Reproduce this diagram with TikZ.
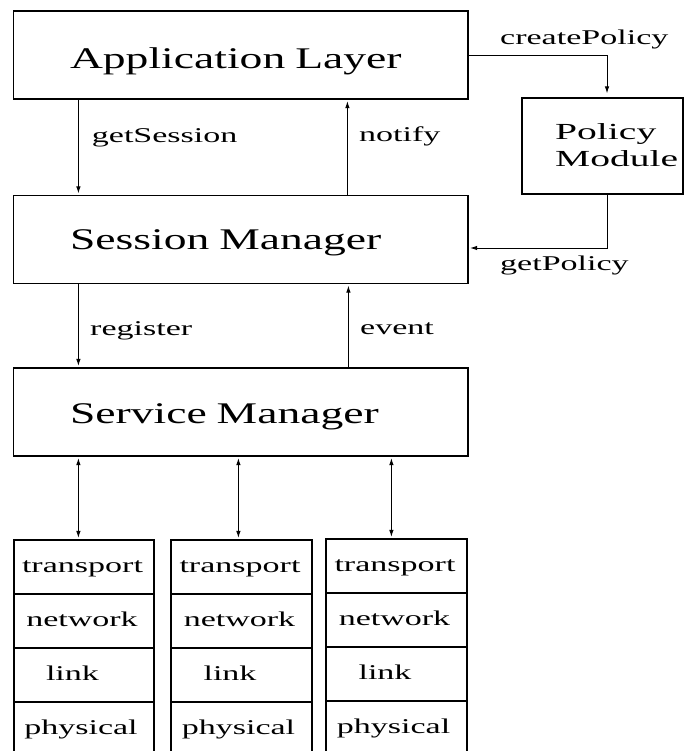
\documentclass[tikz,border=0pt]{standalone}
\usepackage{fontspec}
\setmainfont{Liberation Serif}
\newfontfamily\bigf[FakeStretch=1.52]{Liberation Serif}
\newfontfamily\smf[FakeStretch=1.62]{Liberation Serif}
\newfontfamily\polf[FakeStretch=1.72]{Liberation Serif}
\usetikzlibrary{arrows.meta}
\begin{document}
\begin{tikzpicture}[x=1pt,y=-1pt,
  bigbox/.style={draw, line width=1.2pt, minimum width=454.5pt, minimum height=88pt,
    inner ysep=0pt, inner xsep=56.5pt, text width=341.5pt, align=left,
    font=\bigf\fontsize{30}{36}\selectfont},
  layer/.style={draw, line width=1.2pt, minimum height=54pt, inner sep=0pt,
    text height=14pt, text depth=4pt, font=\smf\fontsize{21}{25}\selectfont},
  lbl/.style={anchor=base west, inner sep=0pt, font=\smf\fontsize{21}{25}\selectfont},
  arr/.style={line width=0.9pt, -{Latex[length=7pt,width=4.5pt]}, shorten >=1.5pt},
  dbl/.style={line width=0.9pt, {Latex[length=7pt,width=4.5pt]}-{Latex[length=7pt,width=4.5pt]},
    shorten >=1.5pt, shorten <=1.5pt}]
\useasboundingbox (0,0) rectangle (684,751);

% main boxes
\node[bigbox, text height=33.3pt, text depth=6.7pt] (app) at (240.75,55) {Application Layer};
\node[bigbox, text height=29.5pt, text depth=10.5pt] (sess) at (240.75,239.5) {Session Manager};
\node[bigbox, text height=31pt, text depth=9pt] (svc) at (240.75,412) {Service Manager};

% policy module
\node[draw, line width=1.2pt, minimum width=161pt, minimum height=96pt, inner sep=0pt] (pol) at (602.5,146) {};
\node[anchor=base west, inner sep=0pt, font=\polf\fontsize{23}{26.7}\selectfont] (polT) at (555,166.7)
  {\begin{tabular}[b]{@{}l@{}}Policy\\Module\end{tabular}};

% labels
\node[lbl] (gs) at (91.7,142.3) {getSession};
\node[lbl] (nt) at (359,142) {notify};
\node[lbl] (rg) at (90,335) {register};
\node[lbl] (ev) at (360,334) {event};
\node[lbl] (cp) at (500,44.3) {createPolicy};
\node[lbl] (gp) at (500,270.7) {getPolicy};

% vertical connectors
\draw[arr] ([xshift=65.5pt]app.south west) -- ([xshift=65.5pt]sess.north west);
\draw[arr] ([xshift=334.5pt]sess.north west) -- ([xshift=334.5pt]app.south west);
\draw[arr] ([xshift=65.5pt]sess.south west) -- ([xshift=65.5pt]svc.north west);
\draw[arr] ([xshift=335.5pt]svc.north west) -- ([xshift=335.5pt]sess.south west);

% policy connectors
\draw[arr, shorten >=4pt] (app.east) -| ([xshift=4.5pt]pol.north);
\draw[arr] ([xshift=4.5pt]pol.south) |- ([yshift=-8.5pt]sess.east);

% protocol stacks
\node[layer, minimum width=140pt] (s1t) at (84,567) {\hspace*{-3pt}transport};
\node[layer, minimum width=140pt] (s1n) at (84,621) {\hspace*{-4pt}network};
\node[layer, minimum width=140pt] (s1l) at (84,675) {\hspace*{-23pt}link};
\node[layer, minimum width=140pt] (s1p) at (84,729) {\hspace*{-6pt}physical};

\node[layer, minimum width=141pt] (s2t) at (241.5,567) {\hspace*{-3pt}transport};
\node[layer, minimum width=141pt] (s2n) at (241.5,621) {\hspace*{-4pt}network};
\node[layer, minimum width=141pt] (s2l) at (241.5,675) {\hspace*{-23pt}link};
\node[layer, minimum width=141pt] (s2p) at (241.5,729) {\hspace*{-6pt}physical};

\node[layer, minimum width=141pt] (s3t) at (396.5,566) {\hspace*{-3pt}transport};
\node[layer, minimum width=141pt] (s3n) at (396.5,620) {\hspace*{-4pt}network};
\node[layer, minimum width=141pt] (s3l) at (396.5,674) {\hspace*{-23pt}link};
\node[layer, minimum width=141pt] (s3p) at (396.5,728) {\hspace*{-6pt}physical};

% double arrows
\coordinate (d1) at ([xshift=65.5pt]svc.south west);
\coordinate (d2) at ([xshift=225.5pt]svc.south west);
\coordinate (d3) at ([xshift=378.5pt]svc.south west);
\draw[dbl] (d1) -- (d1 |- s1t.north);
\draw[dbl] (d2) -- (d2 |- s2t.north);
\draw[dbl] (d3) -- (d3 |- s3t.north);
\end{tikzpicture}
\end{document}
